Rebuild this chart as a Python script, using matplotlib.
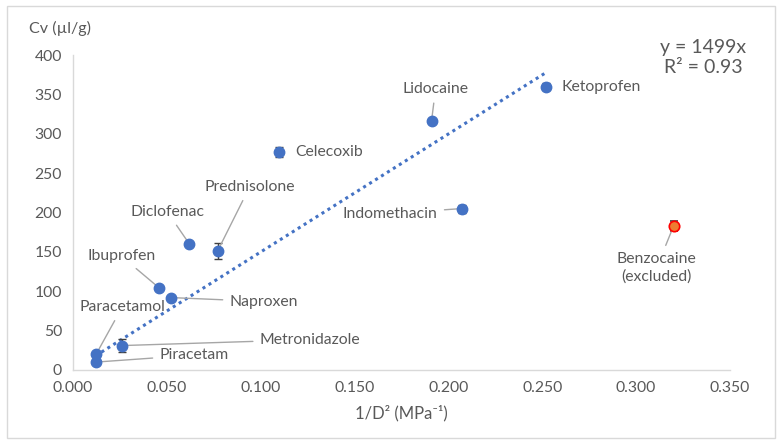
import numpy as np
import matplotlib
matplotlib.use("Agg")
import matplotlib.pyplot as plt
from matplotlib.patches import Rectangle

plt.rcParams['font.family'] = ['Lato', 'DejaVu Sans']

# Data
names = ["Paracetamol", "Piracetam", "Metronidazole", "Ibuprofen", "Naproxen",
         "Diclofenac", "Prednisolone", "Celecoxib", "Lidocaine", "Indomethacin",
         "Ketoprofen"]
inv_d2 = [0.0123, 0.012, 0.026, 0.046, 0.052, 0.062, 0.077, 0.110, 0.191, 0.207, 0.252]
cv = [20, 10, 31, 104, 92, 160, 151, 277, 316, 205, 360]
cv_err = [2, 2, 8, 2, 2, 2, 10, 6, 2, 5, 5]

excl_name = "Benzocaine\n(excluded)"
excl_x = [0.320]
excl_y = [183]
excl_err = [6]

slope = 1499
trend_x = [0.012, 0.252]

# label offsets in pixels: (dx, dy, ha, leader)
offsets = {
    "Paracetamol": (26, 47, "center", True),
    "Piracetam": (64, 7, "left", True),
    "Metronidazole": (138, 6, "left", True),
    "Ibuprofen": (-38, 32, "center", True),
    "Naproxen": (59, -4, "left", True),
    "Diclofenac": (-22, 32, "center", True),
    "Prednisolone": (32, 64, "center", True),
    "Celecoxib": (16, 0, "left", False),
    "Lidocaine": (4, 32, "center", True),
    "Indomethacin": (-24, -5, "right", True),
    "Ketoprofen": (16, 0, "left", False),
}

txt = "#595959"
blue = "#4472C4"
grid_c = "#d9d9d9"
fs = 11.3

fig = plt.figure(figsize=(7.82, 4.44), dpi=100)
ax = fig.add_axes([0.0934, 0.1667, 0.84, 0.7093])

ax.errorbar(inv_d2, cv, yerr=cv_err, fmt='o', color=blue, ms=7.5,
            ecolor="#404040", elinewidth=1, capsize=3, zorder=3)
ax.errorbar(excl_x, excl_y, yerr=excl_err, fmt='o', mfc="#ED7D31", mec="#FF0000",
            mew=1.2, ms=7.5, ecolor="#404040", elinewidth=1, capsize=3, zorder=3)

tx = np.array(trend_x)
ax.plot(tx, slope * tx, linestyle=(0, (1, 1.3)), color=blue, lw=2.2, zorder=2)

arrow = dict(arrowstyle='-', color="#a6a6a6", lw=1, shrinkA=3, shrinkB=2)
for n, x, y in zip(names, inv_d2, cv):
    dx, dy, ha, lead = offsets[n]
    ax.annotate(n, (x, y), xytext=(dx, dy), textcoords='offset pixels',
                ha=ha, va='center', fontsize=fs, color=txt,
                arrowprops=arrow if lead else None)
ax.annotate(excl_name, (excl_x[0], excl_y[0]), xytext=(-17, -42),
            textcoords='offset pixels', ha='center', va='center', fontsize=fs,
            color=txt, linespacing=1.3, arrowprops=arrow)

ax.text(0.3356, 397, "y = 1499x\nR² = 0.93", ha='center', va='center',
        fontsize=14, color=txt, linespacing=1.25, clip_on=False)

ax.set_xlim(0, 0.35)
ax.set_ylim(0, 400)
ax.set_xticks(np.arange(0, 0.351, 0.05))
ax.set_xticklabels([f"{v:.3f}" for v in np.arange(0, 0.351, 0.05)])
ax.set_yticks(np.arange(0, 401, 50))
ax.tick_params(length=0, labelsize=11.3, labelcolor=txt, pad=8)
for s in ["top", "right"]:
    ax.spines[s].set_visible(False)
for s in ["left", "bottom"]:
    ax.spines[s].set_color(grid_c)
    ax.spines[s].set_linewidth(1)

ax.set_xlabel("1/D² (MPa⁻¹)", fontsize=12, color=txt, labelpad=7)
fig.text(0.037, 0.935, "Cv (µl/g)", fontsize=11.6, color=txt, va='center')

fig.patches.append(Rectangle((0.009, 0.0135), 0.982, 0.973, transform=fig.transFigure,
                             fill=False, edgecolor=grid_c, lw=1))

fig.savefig("out.png", dpi=100)
